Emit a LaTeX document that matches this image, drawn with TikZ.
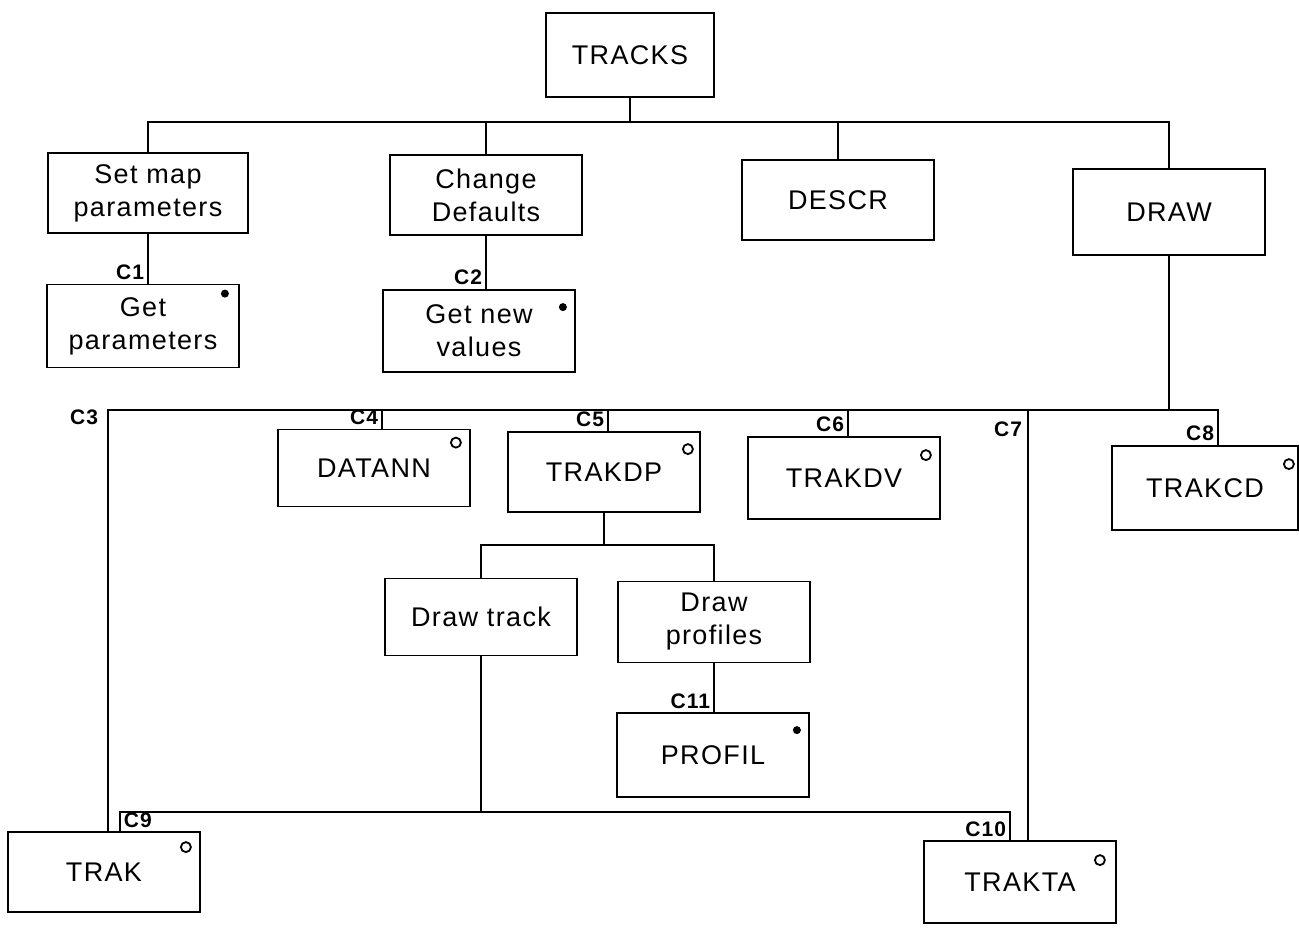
\documentclass[tikz,border=0pt]{standalone}
\usepackage{fontspec}
\setmainfont{Liberation Sans}[LetterSpace=5]
\usetikzlibrary{calc}

\begin{document}
\begin{tikzpicture}[
    x=0.5pt, y=-0.5pt,
    line width=0.9pt,
    font=\fontsize{13.5}{16.5}\selectfont,
    box/.style={draw, minimum width=96pt, minimum height=40pt, align=center, inner sep=2pt},
    clabel/.style={font=\bfseries\fontsize{10.5}{11}\selectfont, inner sep=1.5pt},
    hollow/.style={draw, circle, inner sep=0pt, minimum size=5pt, line width=0.9pt},
    blob/.style={fill, circle, inner sep=0pt, minimum size=4pt}
]
\useasboundingbox (0,0) rectangle (1299,936);

% boxes
\node[box, minimum width=84pt, minimum height=42pt] (tracks) at (630,55) {TRACKS};
\node[box, minimum width=100pt] (setmap) at (148,193) {Set map\\parameters};
\node[box] (defaults) at (486,195) {Change\\Defaults};
\node[box] (descr) at (838,200) {DESCR};
\node[box, minimum height=43pt] (drawbox) at (1169,212) {DRAW};
\node[box, minimum height=41.5pt] (getpar) at (143,326) {Get\\parameters};
\node[box, minimum height=41pt] (getnew) at (479,331) {Get new\\values};
\node[box, minimum height=38.5pt] (datann) at (374,468) {DATANN};
\node[box] (trakdp) at (604,472) {TRAKDP};
\node[box, minimum height=41pt] (trakdv) at (844,478) {TRAKDV};
\node[box, minimum width=93pt, minimum height=42pt] (trakcd) at (1205,488) {TRAKCD};
\node[box, minimum height=38.5pt] (drawtrack) at (481,617) {Draw track};
\node[box, minimum height=40.5pt] (drawprof) at (714,622) {Draw\\profiles};
\node[box, minimum height=42pt] (profil) at (713,755) {PROFIL};
\node[box] (trak) at (104,872) {TRAK};
\node[box, minimum height=41pt] (trakta) at (1020,882) {TRAKTA};

% marks
\node[blob] at ($(getpar.north east)+(-15,10)$) {};
\node[blob] at ($(getnew.north east)+(-13,18)$) {};
\node[blob] at ($(profil.north east)+(-13,18)$) {};
\node[hollow] at ($(datann.north east)+(-15,14)$) {};
\node[hollow] at ($(trakdp.north east)+(-13,18)$) {};
\node[hollow] at ($(trakdv.north east)+(-15,19)$) {};
\node[hollow] at ($(trakcd.north east)+(-10,19)$) {};
\node[hollow] at ($(trak.north east)+(-15,16)$) {};
\node[hollow] at ($(trakta.north east)+(-17,20)$) {};

% top level
\coordinate (bus1) at (0,122);
\draw (tracks) -- (tracks.south |- bus1);
\draw (setmap) -- (setmap.north |- bus1) -- (drawbox.north |- bus1) -- (drawbox);
\draw (defaults) -- (defaults.north |- bus1);
\draw (descr) -- (descr.north |- bus1);

\draw (setmap.south) -- (setmap.south |- getpar.north);
\node[clabel, anchor=south east] at (setmap.south |- getpar.north) {C1};
\draw (defaults.south) -- (defaults.south |- getnew.north);
\node[clabel, anchor=south east] at (defaults.south |- getnew.north) {C2};

% DRAW branch
\coordinate (bus3) at (0,410);
\coordinate (c3) at (108,410);
\coordinate (c4) at (382,410);
\coordinate (c5) at (608,410);
\coordinate (c6) at (848,410);
\coordinate (c7) at (1028,410);
\coordinate (c8) at (1218,410);
\draw (drawbox) -- (drawbox.south |- bus3);
\draw (c3 |- trak.north) -- (c3) -- (c8) -- (c8 |- trakcd.north);
\draw (c4) -- (c4 |- datann.north);
\draw (c5) -- (c5 |- trakdp.north);
\draw (c6) -- (c6 |- trakdv.north);
\draw (c7) -- (c7 |- trakta.north);
\node[clabel, anchor=north east] at ($(c3)+(-6,-4)$) {C3};
\node[clabel, anchor=south east] at (c4 |- datann.north) {C4};
\node[clabel, anchor=south east] at (c5 |- trakdp.north) {C5};
\node[clabel, anchor=south east] at (c6 |- trakdv.north) {C6};
\node[clabel, anchor=north east] at ($(c7)+(-2,8)$) {C7};
\node[clabel, anchor=south east] at (c8 |- trakcd.north) {C8};

% TRAKDP branch
\coordinate (bus5) at (0,545);
\draw (trakdp) -- (trakdp.south |- bus5);
\draw (drawtrack) -- (drawtrack.north |- bus5) -- (drawprof.north |- bus5) -- (drawprof);
\draw (drawprof.south) -- (drawprof.south |- profil.north);
\node[clabel, anchor=south east] at (drawprof.south |- profil.north) {C11};

\coordinate (c9) at (120,812);
\coordinate (c10) at (1010,812);
\draw (drawtrack) -- (drawtrack.south |- c9);
\draw (c9 |- trak.north) -- (c9) -- (c10) -- (c10 |- trakta.north);
\node[clabel, anchor=south west] at (c9 |- trak.north) {C9};
\node[clabel, anchor=south east] at (c10 |- trakta.north) {C10};
\end{tikzpicture}
\end{document}
